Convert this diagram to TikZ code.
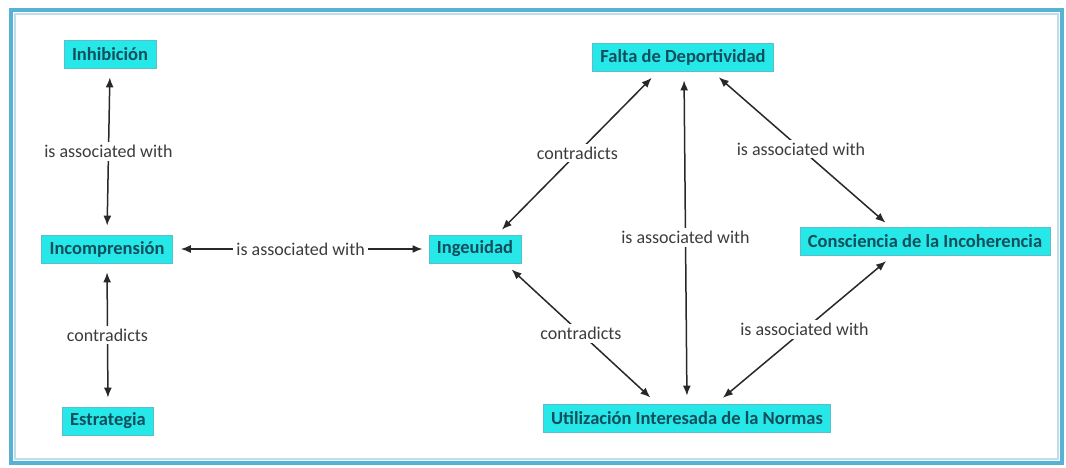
\documentclass[tikz,border=0pt]{standalone}
\usepackage{fontspec}
\setmainfont{Carlito}
\usetikzlibrary{arrows.meta}
\definecolor{boxfill}{RGB}{38,232,232}
\definecolor{boxline}{RGB}{90,190,205}
\definecolor{boxtext}{RGB}{18,78,92}
\definecolor{frameblue}{RGB}{88,178,214}
\definecolor{framelight}{RGB}{190,222,235}
\definecolor{linkcol}{RGB}{40,40,40}
\definecolor{labcol}{RGB}{60,60,60}
\tikzset{
  concept/.style={draw=boxline, line width=0.8pt, fill=boxfill, text=boxtext,
    font=\fontsize{18.5}{21}\selectfont\bfseries, minimum height=28pt, inner xsep=8pt, inner ysep=0pt},
  link/.style={linkcol, line width=1.5pt, {Latex[length=10pt,width=8pt]}-{Latex[length=10pt,width=8pt]}},
  lab/.style={fill=white, text=labcol, font=\fontsize{18}{21}\selectfont, inner sep=3pt}
}
\begin{document}
\begin{tikzpicture}[x=1pt,y=-1pt]
\useasboundingbox (0,0) rectangle (1066,468);
\fill[white] (0,0) rectangle (1066,468);
\draw[framelight, line width=2pt] (15,14) rectangle (1058,459);
\draw[frameblue, line width=3.5pt] (11,10) rectangle (1062,463);

\node[concept] (inh) at (110,54) {Inhibición};
\node[concept] (inc) at (107,249) {Incomprensión};
\node[concept] (est) at (108,421) {Estrategia};
\node[concept] (ing) at (475,249) {Ingeuidad};
\node[concept] (fal) at (683,57) {Falta de Deportividad};
\node[concept] (con) at (925,241) {Consciencia de la Incoherencia};
\node[concept] (uti) at (687,418) {Utilización Interesada de la Normas};

\draw[link, shorten <=9pt, shorten >=9pt] (inh.south) -- node[lab] {is associated with} (inc.north);
\draw[link, shorten <=9pt, shorten >=9pt] (inc.south) -- node[lab] {contradicts} (est.north);
\draw[link, shorten <=8pt, shorten >=6pt] (inc.east) -- node[lab] {is associated with} (ing.west);
\draw[link, shorten <=7pt, shorten >=9pt] ([xshift=22pt]ing.north) -- node[lab] {contradicts} ([xshift=-25pt]fal.south);
\draw[link, shorten <=9pt, shorten >=8pt] ([xshift=1pt]fal.south) -- node[lab] {is associated with} (uti.north);
\draw[link, shorten <=9pt, shorten >=6pt] ([xshift=29pt]fal.south) -- node[lab] {is associated with} ([xshift=-35pt]con.north);
\draw[link, shorten <=9pt, shorten >=9pt] ([xshift=30pt]ing.south) -- node[lab] {contradicts} ([xshift=-30pt]uti.north);
\draw[link, shorten <=9pt, shorten >=9pt] ([xshift=-32pt]con.south) -- node[lab] {is associated with} ([xshift=29pt]uti.north);
\end{tikzpicture}
\end{document}
